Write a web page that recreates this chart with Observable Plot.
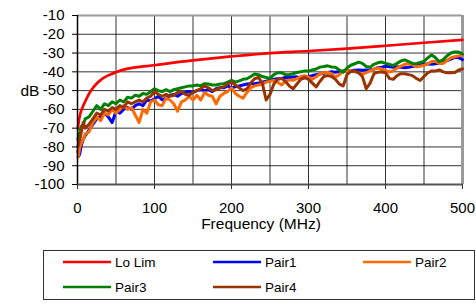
<!DOCTYPE html>
<html><head><meta charset="utf-8">
<script src="https://cdn.jsdelivr.net/npm/d3@7"></script>
<script src="https://cdn.jsdelivr.net/npm/@observablehq/plot@0.6"></script>
<style>
html,body{margin:0;padding:0;background:#fff;}
#wrap{position:relative;width:476px;height:307px;overflow:hidden;font-family:"Liberation Sans",Arial,sans-serif;background:#fff;}
#chart{position:absolute;left:0;top:0;}
#legend{position:absolute;left:43px;top:250px;width:432px;height:50px;border:1px solid #333;box-sizing:border-box;}
.item{position:absolute;display:flex;align-items:center;height:16px;font-size:13.5px;color:#000;white-space:nowrap;}
.item svg{margin-right:4px;display:block;}
</style></head><body>
<div id="wrap"><div id="chart"></div><div id="legend"></div></div>
<script>
// Frequency grid (MHz)
const freq = [0.5,1.5,3,5,7.5,10,
  15,20,25,30,35,40,45,50,
  55,60,65,70,75,80,85,90,95,100,
  105,110,115,120,125,130,135,140,145,150,
  155,160,165,170,175,180,185,190,195,200,
  205,210,215,220,225,230,235,240,245,250,
  255,260,265,270,275,280,285,290,295,300,
  305,310,315,320,325,330,335,340,345,350,
  355,360,365,370,375,380,385,390,395,400,
  405,410,415,420,425,430,435,440,445,450,
  455,460,465,470,475,480,485,490,495,500];

const pair1 = [-82,-85,-83.6,-79,-76,-74,
  -71,-68,-65,-64,-62,-64,-67,-61,
  -62,-60,-59,-60,-58,-57,-58,-55,-55.5,-54.3,
  -53,-55,-54,-52.5,-52,-53,-51.5,-51,-50.5,-51,
  -50,-49.5,-50,-49.5,-50.5,-49,-48.5,-48.5,-47.5,-48.5,
  -48,-47.5,-47,-46.5,-46.3,-46.3,-46,-45.5,-45,-44.5,
  -44,-43.7,-43.5,-43,-43,-42.7,-42.6,-43.7,-43.2,-42.5,
  -42,-41.6,-41.2,-40.8,-40.3,-40,-40.2,-39.8,-39.5,-39.4,
  -39.6,-39.2,-39,-39.2,-39,-38.9,-38.6,-37.8,-37.5,-37,
  -37.3,-37.5,-37.3,-37.6,-37.8,-37.6,-37.2,-36.6,-36,-35.8,
  -35.8,-36,-35.7,-35.3,-34.8,-34,-33.2,-32.3,-32.5,-33.5];

const pair2 = [-85.4,-84,-80,-78,-76,-73,
  -72,-67,-64,-66,-62,-63,-60,-62,
  -60,-58,-60,-59,-63,-67,-60,-62,-56,-55,
  -57.5,-58,-54,-55,-57,-61,-56,-55,-53,-55,
  -52.5,-55,-51,-52.5,-53,-57,-53,-51.5,-50.5,-48.5,
  -51.5,-53,-54,-51,-48.5,-47.5,-47,-46.5,-45.5,-45,
  -44.6,-45.5,-47,-45,-44.3,-44.5,-43.6,-42.5,-42,-42.8,
  -44,-42.6,-41,-40.5,-40.3,-41,-42.8,-41.5,-39.5,-39.4,
  -39.5,-40,-40.5,-41.2,-40.5,-39.5,-38.5,-38,-38.5,-39.3,
  -40.1,-39.5,-38,-37,-36,-35.7,-36.2,-37.3,-37,-36.5,
  -35.8,-34.5,-34.4,-35.5,-35.5,-34,-32.5,-32,-31.5,-31.2];

const pair3 = [-76,-74,-72,-69,-68,-65,
  -64,-61,-58,-60,-57,-58,-56,-57,
  -55,-56,-53.5,-54,-52.5,-53,-51.5,-52,-50.5,-49,
  -50,-50.5,-49.5,-50.5,-49.5,-49,-48.5,-48,-47.5,-47.5,
  -47,-47.5,-46.3,-46.5,-47,-47,-46.5,-46.3,-45.5,-44.6,
  -45.5,-44.8,-44,-43.7,-42.5,-41.2,-41.5,-42.5,-43,-43.5,
  -41.5,-40.5,-40.5,-41.5,-41.5,-41,-40.3,-40,-39.5,-39.6,
  -39,-38.5,-37.5,-37.2,-36.8,-37.4,-37.6,-39,-40.2,-38,
  -36.5,-35.7,-34.8,-35.5,-37.2,-37.5,-36,-35.2,-34.8,-35.5,
  -36,-36.6,-35.5,-34.2,-33.6,-34.5,-35.5,-35.7,-35,-34.4,
  -32.5,-31,-32.5,-34.6,-33.5,-31.4,-30,-29.4,-29.5,-30.5];

const pair4 = [-80,-78,-76,-72,-67,-70,
  -68,-65,-62,-63,-60,-61,-59,-60,
  -58,-59,-56,-57,-56,-55,-56,-54,-53,-50.5,
  -52,-53,-52,-53,-52.5,-51,-50.5,-52,-52.5,-51,
  -50,-49,-47.5,-48.5,-50,-49.5,-48.5,-48,-46.5,-45.5,
  -47,-48.5,-50,-49,-46,-43.7,-43,-46,-55,-52,
  -46.5,-44,-43.5,-45,-47.5,-49,-46.5,-44,-43,-44,
  -46,-48,-45,-42.5,-42,-42.5,-44,-46.5,-47.5,-41.5,
  -39.8,-39.5,-40.5,-42.5,-49,-46,-41,-40.2,-40,-40.5,
  -43.5,-44,-42,-41,-41,-41.5,-42,-43.5,-44.6,-42.5,
  -40.5,-39.5,-39.5,-39,-40,-40.5,-40.5,-40.3,-39,-38.4];

const loLimFreq = [0.5,1,2,3,4,6,8,10,13,16,20,25,30,35,40,50,60,75,100,125,150,175,200,250,300,350,400,450,500];
const loLimDb = [-70.3,-68.3,-65.6,-63.5,-61.8,-59.5,-57.5,-55.8,-53.2,-51,-48.6,-46.2,-44.4,-43,-41.9,-40.2,-38.8,-37.6,-36.5,-35.1,-33.9,-32.8,-31.8,-30,-28.9,-27.6,-26.1,-24.5,-23];

const seriesNames = ["Lo Lim","Pair1","Pair2","Pair3","Pair4"];
const seriesColors = ["#ff0000","#0000ff","#ff6a00","#008000","#993300"];

const yTicks = [-100,-90,-80,-70,-60,-50,-40,-30,-20,-10];
const xTicks = [0,100,200,300,400,500];
const xGrid = [0,50,100,150,200,250,300,350,400,450,500];

const toRows = (fs, vs) => fs.map((f,i) => ({f, db: vs[i]}));
const pairs = [pair1, pair2, pair3, pair4];

const chart = Plot.plot({
  width: 476, height: 245,
  marginLeft: 77, marginRight: 14, marginTop: 15, marginBottom: 61,
  style: {fontFamily: '"Liberation Sans", Arial, sans-serif', fontSize: "15px", background: "#fff", color: "#000", overflow: "visible"},
  x: {domain: [0, 500]},
  y: {domain: [-100, -10]},
  marks: [
    Plot.gridX(xGrid, {stroke: "#000", strokeOpacity: 0.8, strokeWidth: 1}),
    Plot.gridY(yTicks, {stroke: "#000", strokeOpacity: 0.8, strokeWidth: 1}),
    Plot.ruleY([-10], {stroke: "#9a9a9a", strokeWidth: 2}),
    Plot.ruleX([500], {stroke: "#9a9a9a", strokeWidth: 3}),
    Plot.line(toRows(loLimFreq, loLimDb), {x: "f", y: "db", stroke: seriesColors[0], strokeWidth: 2.7, curve: "monotone-x"}),
    ...pairs.map((vals, k) => Plot.line(toRows(freq, vals), {x: "f", y: "db", stroke: seriesColors[k + 1], strokeWidth: 3, strokeLinejoin: "round"})),
    Plot.ruleX([0], {stroke: "#000", strokeWidth: 1.5}),
    Plot.ruleY([-100], {stroke: "#555", strokeWidth: 2}),
    Plot.axisY(yTicks, {tickSize: 5, tickPadding: 8, tickFormat: d => String(d), label: null}),
    Plot.axisX(xTicks, {tickSize: 5, tickPadding: 13, tickFormat: d => String(d), label: null, stroke: "#333"}),
    Plot.text(["Frequency (MHz)"], {text: d => d, frameAnchor: "bottom", dy: 44, dx: -9, fontSize: 15.5}),
    Plot.text(["dB"], {text: d => d, frameAnchor: "left", dx: -57, dy: -9, fontSize: 15.5})
  ]
});
document.getElementById("chart").appendChild(chart);

// Legend
const legend = document.getElementById("legend");
const cols = [19, 169, 319];
const rowsTop = [3, 28];
seriesNames.forEach((name, i) => {
  const item = document.createElement("div");
  item.className = "item";
  item.style.left = cols[i % 3] + "px";
  item.style.top = rowsTop[Math.floor(i / 3)] + "px";
  item.innerHTML = `<svg width="48" height="16"><line x1="0" x2="48" y1="8" y2="8" stroke="${seriesColors[i]}" stroke-width="2.5"/></svg><span>${name}</span>`;
  legend.appendChild(item);
});
</script>
</body></html>
